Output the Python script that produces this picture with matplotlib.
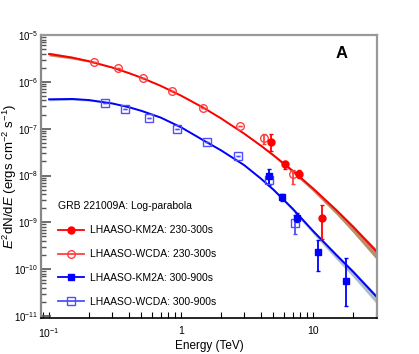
import matplotlib
matplotlib.use("Agg")
import matplotlib.pyplot as plt
from matplotlib.lines import Line2D
from matplotlib.ticker import FixedLocator, FixedFormatter, LogLocator, NullFormatter
import numpy as np

plt.rcParams['font.family'] = ['Liberation Sans Narrow', 'Liberation Sans', 'DejaVu Sans']
plt.rcParams['mathtext.fontset'] = 'custom'
plt.rcParams['mathtext.rm'] = 'Liberation Sans'
plt.rcParams['mathtext.it'] = 'Liberation Sans:italic'

# model curves (log-parabola fits)
curve_e = [0.1, 0.15, 0.2, 0.3, 0.4, 0.5, 0.7, 1.0, 1.5, 2.0, 3.0, 4.0, 5.0, 7.0, 10, 15, 20, 30]
red_fit = [3.93e-6, 3.29e-6, 2.77e-6, 2.03e-6, 1.55e-6, 1.23e-6, 8.24e-7, 5.08e-7, 2.73e-7,
           1.67e-7, 7.87e-8, 4.39e-8, 2.72e-8, 1.26e-8, 5.25e-9, 1.81e-9, 8.07e-10, 2.43e-10]
red_band_up = [0.04, 0.03, 0.02, 0.01, 0.01, 0.01, 0.01, 0.01, 0.01,
               0.01, 0.01, 0.015, 0.02, 0.025, 0.03, 0.035, 0.04, 0.05]
red_band_dn = [0.04, 0.03, 0.02, 0.01, 0.01, 0.01, 0.01, 0.01, 0.01,
               0.01, 0.015, 0.02, 0.03, 0.045, 0.06, 0.09, 0.12, 0.17]
blue_fit = [4.23e-7, 4.31e-7, 4.09e-7, 3.47e-7, 2.89e-7, 2.41e-7, 1.73e-7, 1.07e-7, 5.5e-8,
            3.47e-8, 1.67e-8, 8.7e-9, 5.0e-9, 1.95e-9, 6.5e-10, 2.0e-10, 8.9e-11, 2.63e-11]
blue_band_up = [0.03, 0.025, 0.02, 0.01, 0.01, 0.01, 0.01, 0.01, 0.01,
                0.01, 0.01, 0.015, 0.02, 0.025, 0.03, 0.035, 0.04, 0.045]
blue_band_dn = [0.03, 0.025, 0.02, 0.01, 0.01, 0.01, 0.01, 0.01, 0.01,
                0.01, 0.015, 0.02, 0.03, 0.045, 0.06, 0.09, 0.11, 0.15]

# LHAASO-WCDA 230-300s (open circles)
wcda1_e = [0.220, 0.333, 0.515, 0.859, 1.47, 2.81, 4.24, 7.09]
wcda1_f = [2.7e-6, 2.0e-6, 1.23e-6, 6.3e-7, 2.82e-7, 1.13e-7, 6.3e-8, 1.07e-8]
wcda1_hi = [2.7e-6, 2.0e-6, 1.23e-6, 6.3e-7, 2.82e-7, 1.13e-7, 7.6e-8, 1.3e-8]
wcda1_lo = [2.7e-6, 2.0e-6, 1.23e-6, 6.3e-7, 2.82e-7, 1.13e-7, 4.7e-8, 6.7e-9]

# LHAASO-KM2A 230-300s (filled circles)
km2a1_e = [4.81, 6.14, 7.87, 11.75]
km2a1_f = [5.15e-8, 1.72e-8, 1.07e-8, 1.23e-9]
km2a1_hi = [7.6e-8, 2.06e-8, 1.30e-8, 2.3e-9]
km2a1_lo = [3.37e-8, 1.35e-8, 8.7e-9, 4.5e-10]

# LHAASO-WCDA 300-900s (open squares)
wcda2_e = [0.266, 0.378, 0.575, 0.933, 1.57, 2.69, 4.64, 7.35]
wcda2_f = [3.6e-7, 2.68e-7, 1.73e-7, 1.0e-7, 5.15e-8, 2.67e-8, 8.0e-9, 9.8e-10]
wcda2_hi = [3.6e-7, 2.68e-7, 1.73e-7, 1.0e-7, 5.15e-8, 2.67e-8, 1.1e-8, 1.4e-9]
wcda2_lo = [3.6e-7, 2.68e-7, 1.73e-7, 1.0e-7, 5.15e-8, 2.67e-8, 6.5e-9, 5.5e-10]

# LHAASO-KM2A 300-900s (filled squares)
km2a2_e = [4.64, 5.85, 7.6, 10.97, 17.8]
km2a2_f = [9.85e-9, 3.4e-9, 1.25e-9, 2.27e-10, 5.6e-11]
km2a2_hi = [1.4e-8, 4.1e-9, 1.6e-9, 4.17e-10, 1.74e-10]
km2a2_lo = [6.3e-9, 2.8e-9, 1.0e-9, 9.06e-11, 1.62e-11]

labels = ["LHAASO-KM2A: 230-300s", "LHAASO-WCDA: 230-300s",
          "LHAASO-KM2A: 300-900s", "LHAASO-WCDA: 300-900s"]

RED = "#ff0000"
RED_OPEN = "#ff4040"
BLUE = "#0000ff"
BLUE_OPEN = "#4f4fff"

fig = plt.figure(figsize=(4.19, 3.54), dpi=100)
ax = fig.add_axes([0.098, 0.102, 0.802, 0.799])


def band(fit, up, dn):
    f = np.array(fit)
    return f * 10 ** (-np.array(dn)), f * 10 ** np.array(up)


lo, hi = band(red_fit, red_band_up, red_band_dn)
ax.fill_between(curve_e, lo, hi, color="#b07a50", alpha=0.85, lw=0, zorder=1)
ax.plot(curve_e, red_fit, color=RED, lw=1.4, zorder=2)
lo, hi = band(blue_fit, blue_band_up, blue_band_dn)
ax.fill_between(curve_e, lo, hi, color="#9fb2c6", alpha=0.85, lw=0, zorder=1)
ax.plot(curve_e, blue_fit, color=BLUE, lw=1.4, zorder=2)


def points(e, f, hi, lo, color, marker, filled, ms):
    f = np.array(f)
    yerr = [f - np.array(lo), np.array(hi) - f]
    ax.errorbar(e, f, yerr=yerr, fmt=marker, color=color, ms=ms,
                mfc=color if filled else "none", mec=color, mew=1.0,
                elinewidth=1.3, capsize=1.5, capthick=1.0, zorder=3)


points(wcda1_e, wcda1_f, wcda1_hi, wcda1_lo, RED_OPEN, "o", False, 5.5)
points(km2a1_e, km2a1_f, km2a1_hi, km2a1_lo, RED, "o", True, 5)
points(wcda2_e, wcda2_f, wcda2_hi, wcda2_lo, BLUE_OPEN, "s", False, 5.5)
points(km2a2_e, km2a2_f, km2a2_hi, km2a2_lo, BLUE, "s", True, 5)

ax.set_xscale("log")
ax.set_yscale("log")
ax.set_xlim(0.087, 30.5)
ax.set_ylim(9.1e-12, 1e-5)

ax.xaxis.set_major_locator(FixedLocator([0.1, 1, 10]))
ax.xaxis.set_major_formatter(FixedFormatter([r"$10^{-1}$", "1", "10"]))
ax.xaxis.set_minor_locator(LogLocator(base=10, subs=np.arange(2, 10)))
ax.xaxis.set_minor_formatter(NullFormatter())
ax.yaxis.set_major_locator(LogLocator(base=10, numticks=10))
ax.yaxis.set_minor_locator(LogLocator(base=10, subs=np.arange(2, 10), numticks=20))
ax.yaxis.set_minor_formatter(NullFormatter())

ax.tick_params(which="both", direction="in", top=False, right=False, labelsize=7.5)
ax.tick_params(axis="y", which="major", length=7, width=1.2, color="#555555",
               pad=2, labelsize=7)
ax.tick_params(axis="y", which="minor", length=3.5, width=1.0, color="#555555")
ax.tick_params(axis="x", which="both", length=4, width=0.8)
ax.tick_params(axis="x", which="major", pad=6)

for side in ["top", "right"]:
    ax.spines[side].set_color("#999999")
    ax.spines[side].set_linewidth(1.6)
ax.spines["left"].set_color("#888888")
ax.spines["left"].set_linewidth(1.6)
ax.spines["bottom"].set_linewidth(1.2)

ax.set_xlabel("Energy (TeV)", fontsize=8.5, labelpad=0)
ax.set_ylabel(r"$E^2$dN/d$E$ (ergs cm$^{-2}$ s$^{-1}$)", fontsize=9.5,
              family=["Liberation Sans", "DejaVu Sans"], va="center")
ax.yaxis.set_label_coords(-0.094, 0.5)

ax.text(0.893, 0.935, "A", transform=ax.transAxes, fontsize=12, fontweight="bold",
        ha="center", va="center", family=["Liberation Sans", "DejaVu Sans"])

handles = [
    Line2D([], [], color=RED, marker="o", ms=5, lw=1.3),
    Line2D([], [], color=RED_OPEN, marker="o", ms=5.5, mfc="none", lw=1.3),
    Line2D([], [], color=BLUE, marker="s", ms=5, lw=1.3),
    Line2D([], [], color=BLUE_OPEN, marker="s", ms=5.5, mfc="none", lw=1.3),
]
leg = ax.legend(handles, labels, loc="upper left", bbox_to_anchor=(0.035, 0.43),
                title="GRB 221009A: Log-parabola", frameon=False, fontsize=7.5,
                title_fontsize=7.5, borderpad=0, labelspacing=1.33,
                handlelength=2.5, handletextpad=0.6)
leg._legend_box.align = "left"

fig.savefig("out.png", dpi=100)
